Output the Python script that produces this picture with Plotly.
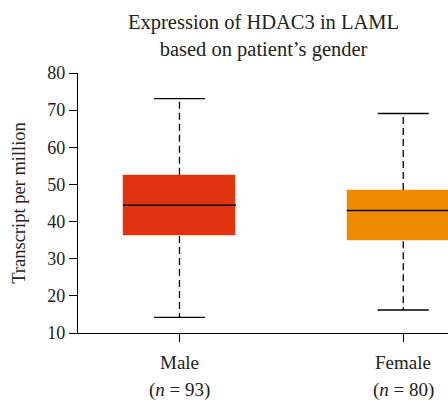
import plotly.graph_objects as go

# Data
categories = ["Male", "Female"]
counts = [93, 80]
lower_whisker = [14.2, 16.2]
q1_values = [36.1, 34.7]
median_values = [44.4, 43.0]
q3_values = [52.6, 48.5]
upper_whisker = [73.1, 69.1]
box_colors = ["#E1330F", "#F08A00"]
y_ticks = [10, 20, 30, 40, 50, 60, 70, 80]

BOX_W = 0.505
CAP_W = 0.228
FONT = "Liberation Serif"
TXT = "#222"

fig = go.Figure()
for i, cat in enumerate(categories):
    fig.add_trace(go.Bar(
        x=[i], base=[q1_values[i]], y=[q3_values[i] - q1_values[i]],
        width=BOX_W, marker=dict(color=box_colors[i],
                                 line=dict(color="rgba(255,255,255,0.55)", width=1)),
        showlegend=False, hoverinfo="skip"))
    for a, b in ((q3_values[i], upper_whisker[i]), (q1_values[i], lower_whisker[i])):
        fig.add_trace(go.Scatter(x=[i, i], y=[a, b], mode="lines",
                                 line=dict(color="black", width=1.3, dash="7px,4px"),
                                 showlegend=False, hoverinfo="skip"))
    for v in (upper_whisker[i], lower_whisker[i]):
        fig.add_trace(go.Scatter(x=[i - CAP_W / 2, i + CAP_W / 2], y=[v, v], mode="lines",
                                 line=dict(color="black", width=1.4),
                                 showlegend=False, hoverinfo="skip"))
    fig.add_trace(go.Scatter(x=[i - BOX_W / 2, i + BOX_W / 2],
                             y=[median_values[i], median_values[i]], mode="lines",
                             line=dict(color="black", width=1.4),
                             showlegend=False, hoverinfo="skip"))
    fig.add_annotation(x=i, xref="x", y=0, yref="paper", yanchor="top", yshift=-17,
                       text=cat, showarrow=False,
                       font=dict(family=FONT, size=19, color=TXT))
    fig.add_annotation(x=i, xref="x", y=0, yref="paper", yanchor="top", yshift=-44,
                       text=f"(<i>n</i> = {counts[i]})", showarrow=False,
                       font=dict(family=FONT, size=19, color=TXT))

fig.add_annotation(x=0.5, xref="paper", y=1, yref="paper", yanchor="bottom", yshift=10,
                   text="Expression of HDAC3 in LAML<br>based on patient’s gender",
                   showarrow=False, align="center",
                   font=dict(family=FONT, size=20.5, color=TXT))

fig.update_layout(
    width=448, height=400,
    margin=dict(l=78, r=0, t=73, b=67),
    paper_bgcolor="white", plot_bgcolor="white",
    font=dict(family=FONT, size=18, color=TXT),
    bargap=0,
)
fig.update_xaxes(range=[-0.4535, 1.2], tickvals=list(range(len(categories))),
                 showticklabels=False, ticks="outside", ticklen=8, tickcolor="black",
                 showline=True, linecolor="black", linewidth=1.2,
                 showgrid=False, zeroline=False)
fig.update_yaxes(range=[10, 80], tickvals=y_ticks, ticks="outside", ticklen=8,
                 tickcolor="black", showline=True, linecolor="black", linewidth=1.2,
                 showgrid=False, zeroline=False, tickfont=dict(size=18, color=TXT),
                 title=dict(text="Transcript per million",
                            font=dict(size=18.5, color=TXT), standoff=16))

fig.write_html("out.html")
